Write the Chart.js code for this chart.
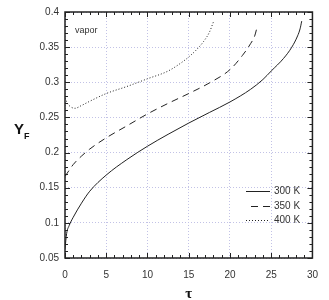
<!DOCTYPE html>
<html>
<head>
<meta charset="utf-8">
<script src="https://cdn.jsdelivr.net/npm/chart.js@4.4.0/dist/chart.umd.min.js"></script>
<style>
  html, body { margin: 0; padding: 0; background: #fff; }
  #wrap { width: 329px; height: 300px; }
</style>
</head>
<body>
<div id="wrap"><canvas id="yfChart" width="329" height="300"></canvas></div>
<script>
// ---- data ----
var tau300 = [0, 0.2, 0.5, 1, 2, 3, 5, 7.5, 10, 12.5, 15, 17.5, 20, 22.5, 24, 25, 26.5, 27.5, 28.2, 28.5, 28.7];
var yf300  = [0.063, 0.085, 0.096, 0.108, 0.128, 0.145, 0.168, 0.190, 0.209, 0.226, 0.242, 0.257, 0.272, 0.290, 0.304, 0.316, 0.334, 0.350, 0.366, 0.376, 0.387];

var tau350 = [0, 1, 2, 3, 5, 7.5, 10, 12.5, 15, 17.5, 20, 21.5, 22.5, 23, 23.3];
var yf350  = [0.166, 0.183, 0.195, 0.205, 0.221, 0.238, 0.255, 0.270, 0.284, 0.299, 0.318, 0.338, 0.355, 0.366, 0.379];

var tau400 = [0, 0.3, 0.7, 1.2, 2, 3, 5, 7.5, 10, 12.5, 14, 15, 16, 16.8, 17.5, 18];
var yf400  = [0.278, 0.270, 0.265, 0.263, 0.267, 0.273, 0.284, 0.294, 0.305, 0.316, 0.327, 0.336, 0.347, 0.358, 0.371, 0.386];

var seriesNames = ['300 K', '350 K', '400 K'];
var xTickLabels = ['0', '5', '10', '15', '20', '25', '30'];
var yTickLabels = ['0.05', '0.1', '0.15', '0.2', '0.25', '0.3', '0.35', '0.4'];

var FONT = '"Liberation Sans", Arial, sans-serif';

function toPoints(xs, ys) {
    var pts = [];
    for (var i = 0; i < xs.length; i++) pts.push({ x: xs[i], y: ys[i] });
    return pts;
}

// frame + inward minor/major ticks on all four sides, plus the loose text
var framePlugin = {
    id: 'frame',
    afterDraw: function(chart) {
        var ctx = chart.ctx, a = chart.chartArea;
        var xs = chart.scales.x, ys = chart.scales.y;
        ctx.save();
        ctx.strokeStyle = '#222';
        ctx.lineWidth = 1;
        var v, p, len;
        for (v = 0; v <= 30; v += 1) {
            p = Math.round(xs.getPixelForValue(v)) + 0.5;
            len = (v % 5 === 0) ? 5 : 3;
            ctx.beginPath();
            ctx.moveTo(p, a.bottom); ctx.lineTo(p, a.bottom - len);
            ctx.moveTo(p, a.top); ctx.lineTo(p, a.top + len);
            ctx.stroke();
        }
        for (var k = 5; k <= 40; k += 1) {
            p = Math.round(ys.getPixelForValue(k / 100)) + 0.5;
            len = (k % 5 === 0) ? 5 : 3;
            ctx.beginPath();
            ctx.moveTo(a.left, p); ctx.lineTo(a.left + len, p);
            ctx.moveTo(a.right, p); ctx.lineTo(a.right - len, p);
            ctx.stroke();
        }
        ctx.lineWidth = 1.5;
        ctx.strokeRect(a.left, a.top, a.right - a.left, a.bottom - a.top);

        // annotation
        ctx.fillStyle = '#333';
        ctx.font = '9px ' + FONT;
        ctx.textBaseline = 'middle';
        ctx.fillText('vapor', a.left + 10, a.top + 19);

        // y axis title with subscript
        ctx.fillStyle = '#111';
        ctx.font = 'bold 15px ' + FONT;
        ctx.textBaseline = 'alphabetic';
        ctx.fillText('Y', 14, 134);
        ctx.font = 'bold 9px ' + FONT;
        ctx.fillText('F', 24, 139);

        // x axis title
        ctx.font = 'bold 15px "Liberation Serif", "DejaVu Serif", serif';
        ctx.textAlign = 'center';
        ctx.textBaseline = 'middle';
        ctx.fillText('τ', (a.left + a.right) / 2, 294);
        ctx.textAlign = 'left';

        // legend
        var rows = [191, 206, 220];
        ctx.font = '10px ' + FONT;
        for (var i = 0; i < rows.length; i++) {
            var ds = chart.data.datasets[i];
            ctx.strokeStyle = ds.borderColor;
            ctx.lineWidth = ds.borderWidth;
            ctx.setLineDash(ds.borderDash || []);
            ctx.beginPath();
            ctx.moveTo(i === 1 ? 251 : 246, rows[i] + 0.5);
            ctx.lineTo(270, rows[i] + 0.5);
            ctx.stroke();
            ctx.setLineDash([]);
            ctx.fillStyle = '#333';
            ctx.fillText(seriesNames[i], 274, rows[i]);
        }
        ctx.restore();
    }
};

var YFChartManager = {
    chart: null,

    init: function() {
        var canvas = document.getElementById('yfChart');
        if (!canvas) return;
        this.createChart(canvas);
    },

    createChart: function(canvas) {
        var lineBase = { showLine: true, pointRadius: 0, fill: false, cubicInterpolationMode: 'monotone', borderColor: '#222', borderWidth: 1 };

        this.chart = new Chart(canvas.getContext('2d'), {
            type: 'scatter',
            data: {
                datasets: [
                    Object.assign({}, lineBase, { label: seriesNames[0], data: toPoints(tau300, yf300) }),
                    Object.assign({}, lineBase, { label: seriesNames[1], data: toPoints(tau350, yf350), borderDash: [7, 5] }),
                    Object.assign({}, lineBase, { label: seriesNames[2], data: toPoints(tau400, yf400), borderDash: [1, 2] })
                ]
            },
            options: {
                responsive: false,
                animation: false,
                layout: { padding: { left: 0, right: 14, top: 10, bottom: 0 } },
                plugins: { legend: { display: false }, tooltip: { enabled: false } },
                scales: {
                    x: {
                        type: 'linear', min: 0, max: 30,
                        afterFit: function(s) { s.height = 42; },
                        grid: { color: '#c2c2e6', lineWidth: 1, drawTicks: false },
                        border: { display: false, dash: [1, 2] },
                        ticks: {
                            stepSize: 5, padding: 11, color: '#333', font: { family: FONT, size: 10 },
                            callback: function(v, i) { return xTickLabels[i]; }
                        }
                    },
                    y: {
                        type: 'linear', min: 0.05, max: 0.4,
                        afterFit: function(s) { s.width = 65; },
                        grid: { color: '#c2c2e6', lineWidth: 1, drawTicks: false },
                        border: { display: false, dash: [1, 2] },
                        ticks: {
                            stepSize: 0.05, padding: 6, color: '#333', font: { family: FONT, size: 10 },
                            callback: function(v, i) { return yTickLabels[i]; }
                        }
                    }
                }
            },
            plugins: [framePlugin]
        });
    }
};

YFChartManager.init();
</script>
</body>
</html>
